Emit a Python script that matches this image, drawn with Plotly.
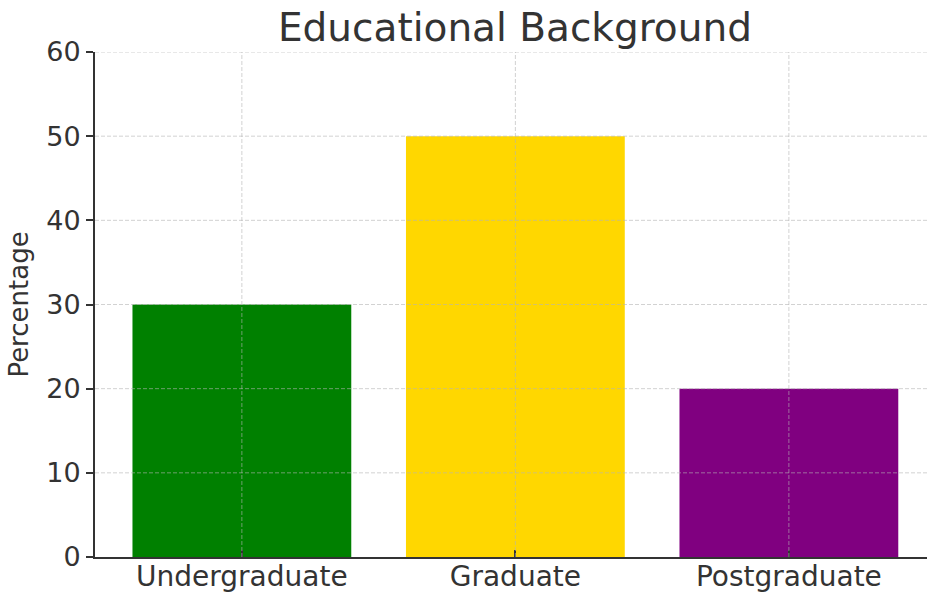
import plotly.graph_objects as go

categories = ["Undergraduate", "Graduate", "Postgraduate"]
percentages = [30, 50, 20]
bar_colors = ["#008000", "#FFD700", "#800080"]
y_ticks = [0, 10, 20, 30, 40, 50, 60]

fig = go.Figure(
    go.Bar(
        x=categories,
        y=percentages,
        marker=dict(color=bar_colors, line=dict(width=0)),
        width=0.8,
    )
)

grid_style = dict(color="rgba(180,180,180,0.6)", width=1, dash="4px,2px")
shapes = []
for v in y_ticks[1:]:
    shapes.append(dict(type="line", xref="paper", x0=0, x1=1, yref="y", y0=v, y1=v,
                       line=grid_style, layer="above"))
for c in categories:
    shapes.append(dict(type="line", xref="x", x0=c, x1=c, yref="paper", y0=0, y1=1,
                       line=grid_style, layer="above"))

fig.update_layout(
    width=927,
    height=592,
    margin=dict(l=95, r=0, t=52, b=35, autoexpand=False),
    paper_bgcolor="white",
    plot_bgcolor="white",
    font=dict(family="DejaVu Sans", color="#333333"),
    showlegend=False,
    shapes=shapes,
    title=dict(
        text="Educational Background",
        font=dict(size=39, color="#333333"),
        x=0.5555, xanchor="center",
        y=0.953, yanchor="middle",
        xref="container", yref="container",
    ),
    bargap=0.2,
)

fig.update_xaxes(
    range=[-0.537, 2.505],
    showgrid=False,
    automargin=False,
    showline=True, linecolor="#333333", linewidth=2,
    ticks="inside", ticklen=7, tickwidth=1.5, tickcolor="#333333",
    tickfont=dict(size=28, color="#333333"),
    ticklabelstandoff=-7,
    layer="above traces",
)

fig.update_yaxes(
    range=[0, 60],
    tickvals=y_ticks,
    showgrid=False,
    zeroline=False,
    automargin=False,
    showline=True, linecolor="#333333", linewidth=2,
    ticks="outside", ticklen=7, tickwidth=1.5, tickcolor="#333333",
    tickfont=dict(size=27, color="#333333"),
    title=dict(text="Percentage", font=dict(size=26, color="#333333"), standoff=10),
    layer="above traces",
)

fig.write_html(
    "out.html",
    config={"displayModeBar": False},
    post_script="document.body.style.margin='0';document.body.style.overflow='hidden';",
)
